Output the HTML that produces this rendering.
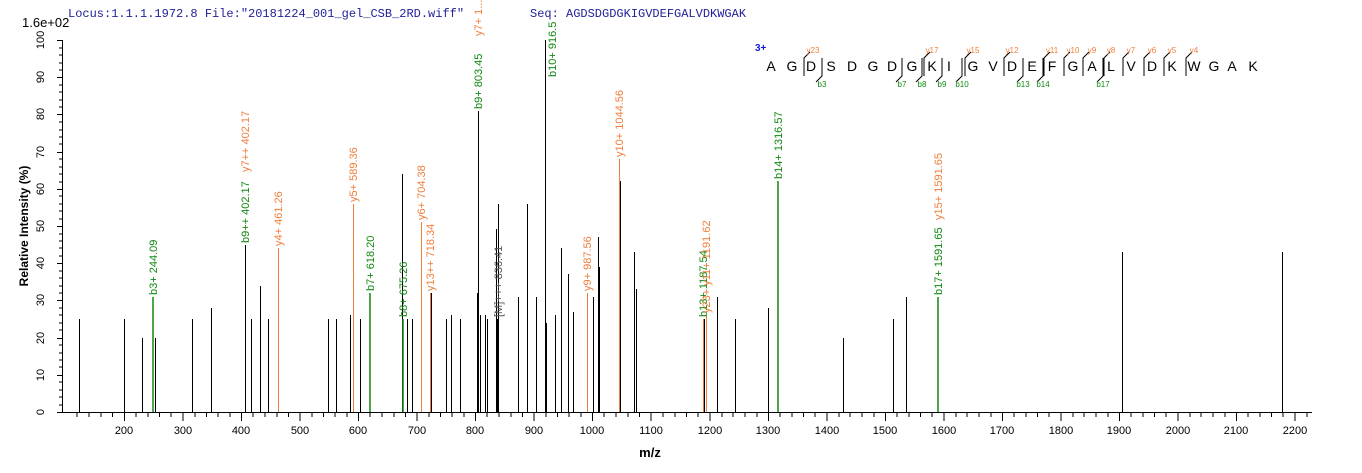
<!DOCTYPE html>
<html><head><meta charset="utf-8"><style>
body{margin:0;background:#fff;}
svg{display:block;font-family:"Liberation Sans",sans-serif;}
.o{fill:#f07f3c;font-size:11px}
.g{fill:#118811;font-size:11px}
.k{fill:#555;font-size:11px}
.t{font-size:11px;fill:#000}
</style></head><body>
<svg width="1362" height="473" viewBox="0 0 1362 473">
<text x="68" y="17" font-family="Liberation Mono,monospace" font-size="12" fill="#22229a">Locus:1.1.1.1972.8 File:"20181224_001_gel_CSB_2RD.wiff"</text>
<text x="530" y="17" font-family="Liberation Mono,monospace" font-size="12" fill="#22229a">Seq: AGDSDGDGKIGVDEFGALVDKWGAK</text>
<text x="22" y="27" font-size="13" fill="#000">1.6e+02</text>
<g stroke="#000" stroke-width="1">
<line x1="62.5" y1="40" x2="62.5" y2="412.5"/>
<line x1="62" y1="412.5" x2="1312" y2="412.5"/>
</g>
<g stroke="#000">
<path d="M57 40.5h5M57 77.5h5M57 114.5h5M57 152.5h5M57 189.5h5M57 226.5h5M57 263.5h5M57 300.5h5M57 338.5h5M57 375.5h5M57 412.5h5"/>
<path d="M59 48h3M59 55h3M59 63h3M59 70h3M59 85h3M59 92h3M59 100h3M59 107h3M59 122h3M59 130h3M59 137h3M59 144h3M59 159h3M59 167h3M59 174h3M59 182h3M59 196h3M59 204h3M59 211h3M59 219h3M59 234h3M59 241h3M59 248h3M59 256h3M59 271h3M59 278h3M59 286h3M59 293h3M59 308h3M59 315h3M59 323h3M59 330h3M59 345h3M59 353h3M59 360h3M59 367h3M59 382h3M59 390h3M59 397h3M59 405h3"/>
</g>
<g class="t" text-anchor="middle">
<text transform="translate(44,40) rotate(-90)">100</text>
<text transform="translate(44,77) rotate(-90)">90</text>
<text transform="translate(44,114) rotate(-90)">80</text>
<text transform="translate(44,152) rotate(-90)">70</text>
<text transform="translate(44,189) rotate(-90)">60</text>
<text transform="translate(44,226) rotate(-90)">50</text>
<text transform="translate(44,263) rotate(-90)">40</text>
<text transform="translate(44,300) rotate(-90)">30</text>
<text transform="translate(44,338) rotate(-90)">20</text>
<text transform="translate(44,375) rotate(-90)">10</text>
<text transform="translate(44,412) rotate(-90)">0</text>
</g>
<text transform="translate(28,226) rotate(-90)" text-anchor="middle" font-size="12" font-weight="bold">Relative   Intensity (%)</text>
<g stroke="#000">
<path d="M124.5 413v8M183 413v8M241.5 413v8M300 413v8M358.5 413v8M417 413v8M475.5 413v8M534 413v8M592.5 413v8M651 413v8M710 413v8M768.5 413v8M827 413v8M885.5 413v8M944 413v8M1002.5 413v8M1061 413v8M1119.5 413v8M1178 413v8M1236.5 413v8M1295 413v8"/>
<path d="M77 413v4M89 413v4M101 413v4M112.5 413v4M136 413v4M148 413v4M159.5 413v4M171 413v4M195 413v4M206.5 413v4M218 413v4M230 413v4M253 413v4M265 413v4M277 413v4M288.5 413v4M312 413v4M323.5 413v4M335 413v4M347 413v4M370 413v4M382 413v4M394 413v4M405.5 413v4M429 413v4M440.5 413v4M452 413v4M464 413v4M487 413v4M499 413v4M511 413v4M522.5 413v4M546 413v4M557.5 413v4M569 413v4M581 413v4M604 413v4M616 413v4M628 413v4M639.5 413v4M663 413v4M675 413v4M686.5 413v4M698 413v4M722 413v4M733 413v4M745 413v4M757 413v4M780 413v4M792 413v4M803.5 413v4M815 413v4M839 413v4M850 413v4M862 413v4M874 413v4M897 413v4M909 413v4M920.5 413v4M932 413v4M956 413v4M967 413v4M979 413v4M991 413v4M1014 413v4M1026 413v4M1037.5 413v4M1049 413v4M1073 413v4M1084 413v4M1096 413v4M1108 413v4M1131 413v4M1143 413v4M1154.5 413v4M1166 413v4M1190 413v4M1201 413v4M1213 413v4M1225 413v4M1248 413v4M1260 413v4M1271.5 413v4M1283 413v4M1307 413v4"/>
</g>
<g class="t" text-anchor="middle">
<text x="124" y="434">200</text><text x="183" y="434">300</text><text x="241" y="434">400</text><text x="300" y="434">500</text><text x="358" y="434">600</text><text x="417" y="434">700</text><text x="475" y="434">800</text><text x="534" y="434">900</text><text x="592" y="434">1000</text><text x="651" y="434">1100</text><text x="710" y="434">1200</text><text x="768" y="434">1300</text><text x="827" y="434">1400</text><text x="885" y="434">1500</text><text x="944" y="434">1600</text><text x="1002" y="434">1700</text><text x="1061" y="434">1800</text><text x="1119" y="434">1900</text><text x="1178" y="434">2000</text><text x="1236" y="434">2100</text><text x="1295" y="434">2200</text>
</g>
<text x="650" y="457" text-anchor="middle" font-size="13" font-weight="bold">m/z</text>
<g stroke="#000" stroke-width="1">
<path d="M79.5 412V319M124.5 412V319M142.5 412V338M155.5 412V338M192.5 412V319M211.5 412V308M245.5 412V245M251.5 412V319M260.5 412V286M268.5 412V319M328.5 412V319M336.5 412V319M350.5 412V315M360.5 412V319M402.5 412V174M407.5 412V319M412.5 412V319M431.5 412V293M446.5 412V319M451.5 412V315M460.5 412V319M477.5 412V293M478.5 412V111M480.5 412V315M485.5 412V315M487.5 412V319M496.5 412V229M497.5 412V319M498.5 412V204M518.5 412V297M527.5 412V204M536.5 412V297M545.5 412V40M546.5 412V323M555.5 412V315M561.5 412V248M568.5 412V274M573.5 412V312M593.5 412V297M598.5 412V237M599.5 412V267M620.5 412V181M634.5 412V252M636.5 412V289M704.5 412V319M717.5 412V297M735.5 412V319M768.5 412V308M843.5 412V338M893.5 412V319M906.5 412V297M1122.5 412V252M1282.5 412V252"/>
</g>
<g stroke="#f07f3c" stroke-width="1">
<path d="M278.5 412V248M353.5 412V204M421.5 412V222M430.5 412V293M587.5 412V293M619.5 412V159M703.5 412V319M706.5 412V315"/>
</g>
<g stroke="#118811" stroke-width="1.5">
<path d="M153 412V297M370 412V293M403 412V319M778 412V181M938 412V297"/>
</g>
<g>
<text class="g" transform="translate(157,295) rotate(-90)">b3+ 244.09</text>
<text class="g" transform="translate(249,243) rotate(-90)">b9++ 402.17</text>
<text class="o" transform="translate(249,172) rotate(-90)">y7++ 402.17</text>
<text class="o" transform="translate(282,246) rotate(-90)">y4+ 461.26</text>
<text class="o" transform="translate(357,202) rotate(-90)">y5+ 589.36</text>
<text class="g" transform="translate(374,291) rotate(-90)">b7+ 618.20</text>
<text class="g" transform="translate(407,317) rotate(-90)">b8+ 675.26</text>
<text class="o" transform="translate(425,220) rotate(-90)">y6+ 704.38</text>
<text class="o" transform="translate(434,291) rotate(-90)">y13++ 718.34</text>
<text class="g" transform="translate(482,109) rotate(-90)">b9+ 803.45</text>
<text class="o" transform="translate(482,36) rotate(-90)">y7+ 1...</text>
<text class="k" transform="translate(502,317) rotate(-90)">[M]+++ 836.41</text>
<text class="g" transform="translate(556,77) rotate(-90)">b10+ 916.5</text>
<text class="o" transform="translate(591,291) rotate(-90)">y9+ 987.56</text>
<text class="o" transform="translate(623,157) rotate(-90)">y10+ 1044.56</text>
<text class="g" transform="translate(707,317) rotate(-90)">b13+ 1187.54</text>
<text class="o" transform="translate(710,313) rotate(-90)">y23+ y11+ 1191.62</text>
<text class="g" transform="translate(782,179) rotate(-90)">b14+ 1316.57</text>
<text class="o" transform="translate(942,220) rotate(-90)">y15+ 1591.65</text>
<text class="g" transform="translate(942,295) rotate(-90)">b17+ 1591.65</text>
</g>
<text x="755" y="51" font-size="10" font-weight="bold" fill="#1a1add">3+</text>
<g font-size="14" fill="#000" text-anchor="middle">
<text x="771" y="71">A</text><text x="792" y="71">G</text><text x="811" y="71">D</text><text x="831" y="71">S</text><text x="852" y="71">D</text><text x="873" y="71">G</text><text x="892" y="71">D</text><text x="912" y="71">G</text><text x="932" y="71">K</text><text x="949" y="71">I</text><text x="973" y="71">G</text><text x="993" y="71">V</text><text x="1012" y="71">D</text><text x="1032" y="71">E</text><text x="1052" y="71">F</text><text x="1073" y="71">G</text><text x="1092" y="71">A</text><text x="1111" y="71">L</text><text x="1131" y="71">V</text><text x="1152" y="71">D</text><text x="1172" y="71">K</text><text x="1194" y="71">W</text><text x="1214" y="71">G</text><text x="1232" y="71">A</text><text x="1253" y="71">K</text>
</g>
<g stroke="#000" fill="none">
<path d="M810 52l-6 6v18M930 52l-6 6v18M971 52l-6 6v18M1010 52l-6 6v18M1050 52l-6 6v18M1070 52l-6 6v18M1089 52l-6 6v18M1110 52l-6 6v18M1129 52l-6 6v18M1150 52l-6 6v18M1170 52l-6 6v18M1192 52l-6 6v18"/>
<path d="M822 58v18l-6 6M902 58v18l-6 6M922 58v18l-6 6M942 58v18l-6 6M962 58v18l-6 6M1023 58v18l-6 6M1043 58v18l-6 6M1103 58v18l-6 6"/>
</g>
<g font-size="8" fill="#f07f3c" text-anchor="middle">
<text x="813" y="53">y23</text><text x="932" y="53">y17</text><text x="973" y="53">y15</text><text x="1012" y="53">y12</text><text x="1052" y="53">y11</text><text x="1073" y="53">y10</text><text x="1092" y="53">y9</text><text x="1111" y="53">y8</text><text x="1131" y="53">y7</text><text x="1152" y="53">y6</text><text x="1172" y="53">y5</text><text x="1194" y="53">y4</text>
</g>
<g font-size="8" fill="#118811" text-anchor="middle">
<text x="822" y="87">b3</text><text x="902" y="87">b7</text><text x="922" y="87">b8</text><text x="942" y="87">b9</text><text x="962" y="87">b10</text><text x="1023" y="87">b13</text><text x="1043" y="87">b14</text><text x="1103" y="87">b17</text>
</g>
</svg>
</body></html>
